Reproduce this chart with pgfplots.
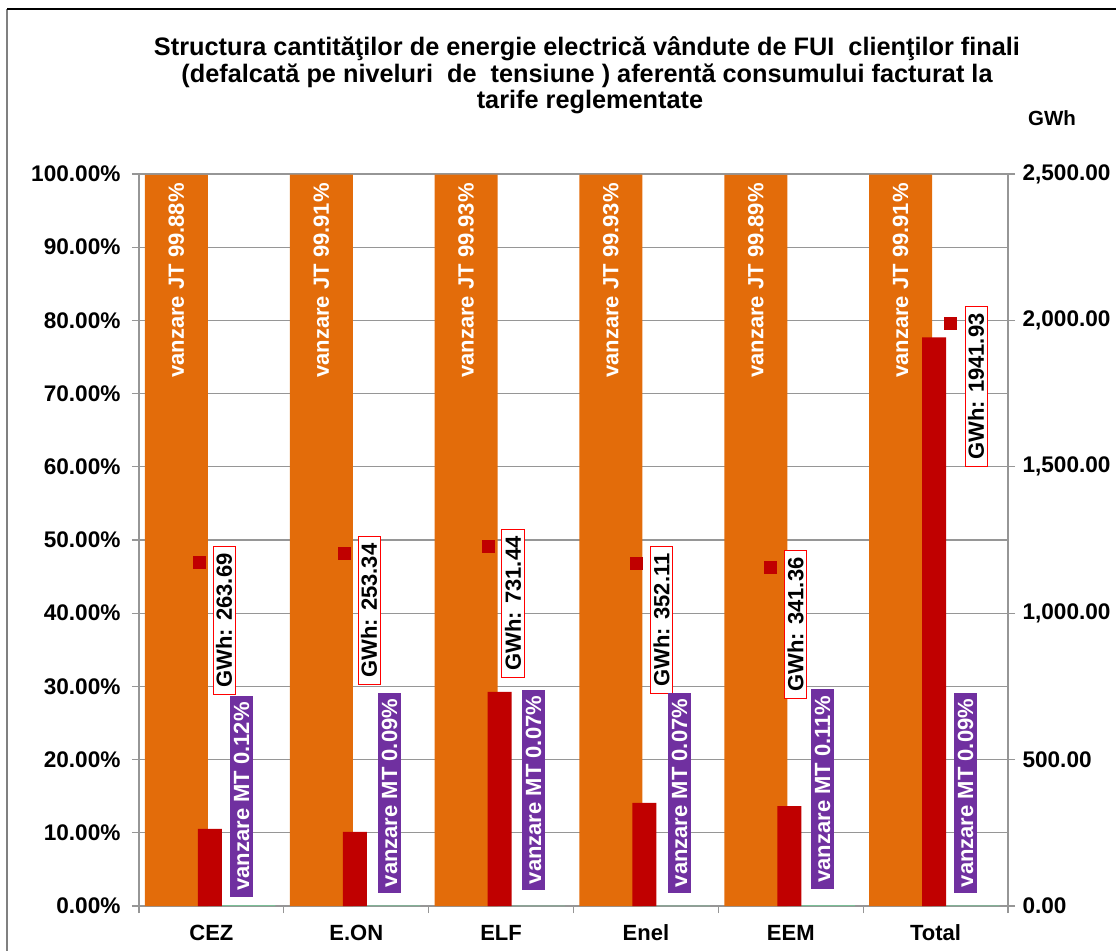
\documentclass[border=0pt]{standalone}
\usepackage{pgfplots}
\pgfplotsset{compat=1.18}
\usepackage{fontspec}
\setmainfont{Liberation Sans}
\definecolor{jt}{RGB}{227,108,10}
\definecolor{gw}{RGB}{192,0,0}
\definecolor{mt}{RGB}{112,48,160}
\definecolor{mtbar}{RGB}{122,190,150}
\definecolor{gridc}{RGB}{150,150,150}
\newcommand{\fs}{\fontsize{22}{26}\selectfont}
\newcommand{\ft}{\fontsize{22.6}{26}\selectfont}
\begin{document}
\begin{tikzpicture}[x=1pt,y=1pt]
\useasboundingbox (0,0) rectangle (1116,-951);
\draw[gray, line width=1.5pt] (7,-9) -- (7,-951);
\draw[black, line width=1.5pt] (7,-9) -- (1116,-9);
\tikzset{ttl/.style={anchor=base, font=\bfseries\fontsize{25.3}{27}\selectfont, inner sep=0pt}}
\node[ttl] at (587,-55) {Structura cantităţilor de energie electrică vândute de FUI\ \ clienţilor finali};
\node[ttl] at (587,-82.2) {(defalcată pe niveluri\ \ de\ \ tensiune ) aferentă consumului facturat la};
\node[ttl] at (590,-108.5) {tarife reglementate};
\node[font=\bfseries\fontsize{20.5}{24}\selectfont] at (1052,-118) {GWh};
\begin{axis}[
  at={(139pt,-906pt)}, anchor=south west, scale only axis,
  width=869pt, height=732pt,
  xmin=-0.5, xmax=5.5, ymin=0, ymax=100,
  ybar,
  axis x line*=bottom, axis y line*=left,
  axis line style={gridc, line width=1.2pt},
  xtick={0,...,5}, xticklabels={CEZ,E.ON,ELF,Enel,EEM,Total},
  minor xtick={-0.5,0.5,...,5.5},
  major x tick style={draw=none},
  minor x tick style={gridc, line width=1.2pt},
  minor tick length=7pt, major tick length=7pt, tick align=outside,
  ytick={0,10,...,100},
  y tick style={gridc, line width=1.2pt},
  ymajorgrids, grid style={gridc, line width=1.2pt},
  /pgf/number format/assume math mode=true,
  yticklabel={\pgfmathprintnumber[fixed,fixed zerofill,precision=2]{\tick}\%},
  tick label style={font=\bfseries\ft},
  yticklabel style={xshift=-8pt},
  xticklabel style={font=\bfseries\fs, anchor=north, text height=16pt, text depth=5pt, yshift=-8pt},
]
\addplot[ybar, bar width=63pt, bar shift=-35pt, fill=jt, draw=none]
  coordinates {(0,99.88)(1,99.91)(2,99.93)(3,99.93)(4,99.89)(5,99.91)};
\addplot[ybar, bar width=64pt, bar shift=32pt, fill=mtbar, draw=none]
  coordinates {(0,0.12)(1,0.09)(2,0.07)(3,0.07)(4,0.11)(5,0.09)};
\end{axis}
\begin{axis}[
  at={(139pt,-906pt)}, anchor=south west, scale only axis,
  width=869pt, height=732pt,
  xmin=-0.5, xmax=5.5, ymin=0, ymax=2500,
  ybar,
  axis x line=none, axis y line*=right,
  axis line style={gridc, line width=1.2pt},
  ytick={0,500,...,2500},
  y tick style={gridc, line width=1.2pt},
  major tick length=7pt, tick align=outside,
  /pgf/number format/assume math mode=true,
  yticklabel={\pgfmathprintnumber[fixed,fixed zerofill,precision=2,1000 sep={,}]{\tick}},
  tick label style={font=\bfseries\ft},
  yticklabel style={xshift=4pt},
  clip=false,
]
\addplot[ybar, bar width=24pt, bar shift=-1.5pt, fill=gw, draw=none]
  coordinates {(0,263.69)(1,253.34)(2,731.44)(3,352.11)(4,341.36)(5,1941.93)};
\addplot[only marks, mark=square*, mark size=6pt, color=gw, mark options={draw=none, fill=gw}]
  coordinates {(-0.0857,1173.3)(0.9155,1205.5)(1.9097,1229.5)(2.9316,1171.5)(3.8568,1157.8)(5.0997,1991)};
% JT labels
\tikzset{jtl/.style={text=white, rotate=90, anchor=east, font=\bfseries\fs, inner sep=0pt}}
\node[jtl] at (axis cs:-0.2417,2469) {vanzare JT 99.88\%};
\node[jtl] at (axis cs:0.7583,2469) {vanzare JT 99.91\%};
\node[jtl] at (axis cs:1.7583,2469) {vanzare JT 99.93\%};
\node[jtl] at (axis cs:2.7583,2469) {vanzare JT 99.93\%};
\node[jtl] at (axis cs:3.7583,2469) {vanzare JT 99.89\%};
\node[jtl] at (axis cs:4.7583,2469) {vanzare JT 99.91\%};
% GWh labels
\tikzset{gwl/.style={draw=red, fill=white, rotate=90, font=\bfseries\fs, inner xsep=7pt, inner ysep=3pt, line width=0.8pt}}
\node[gwl] at (axis cs:0.087,975) {GWh: 263.69};
\node[gwl] at (axis cs:1.088,1009) {GWh: 253.34};
\node[gwl] at (axis cs:2.082,1033) {GWh: 731.44};
\node[gwl] at (axis cs:3.108,977) {GWh: 352.11};
\node[gwl] at (axis cs:4.033,961.5) {GWh: 341.36};
\node[gwl] at (axis cs:5.279,1774) {GWh: 1941.93};
% MT labels
\tikzset{mtl/.style={fill=mt, text=white, rotate=90, font=\bfseries\fs, inner xsep=6pt, inner ysep=4pt}}
\node[mtl] at (axis cs:0.2077,374) {vanzare MT 0.12\%};
\node[mtl] at (axis cs:1.2296,386) {vanzare MT 0.09\%};
\node[mtl] at (axis cs:2.2239,396) {vanzare MT 0.07\%};
\node[mtl] at (axis cs:3.232,386) {vanzare MT 0.07\%};
\node[mtl] at (axis cs:4.2193,399.5) {vanzare MT 0.11\%};
\node[mtl] at (axis cs:5.2067,386) {vanzare MT 0.09\%};
\end{axis}
\end{tikzpicture}
\end{document}
